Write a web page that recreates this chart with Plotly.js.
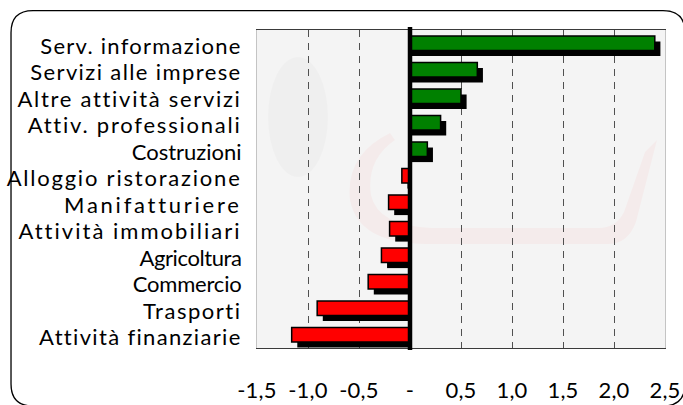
<!DOCTYPE html>
<html><head><meta charset="utf-8">
<script src="https://cdn.plot.ly/plotly-3.0.1.min.js"></script>
<style>
html,body{margin:0;padding:0;background:#fff;overflow:hidden;}
#chart{width:683px;height:405px;}
#chart .ytick text{letter-spacing:0.9px;}
#chart .xtick text{letter-spacing:0.2px;}
</style></head><body>
<div id="chart"></div>
<script>
const categories = ['Serv. informazione','Servizi alle imprese','Altre attività servizi','Attiv. professionali','Costruzioni','Alloggio ristorazione','Manifatturiere','Attività immobiliari','Agricoltura','Commercio','Trasporti','Attività finanziarie'];
const values = [2.40, 0.66, 0.50, 0.30, 0.17, -0.08, -0.21, -0.20, -0.28, -0.41, -0.91, -1.16];
const tickValues = [-1.5, -1.0, -0.5, 0, 0.5, 1.0, 1.5, 2.0, 2.5];
const tickLabels = ['-1,5', '-1,0', '-0,5', '-', '0,5', '1,0', '1,5', '2,0', '2,5'];
const gridValues = [-1.5, -1.0, -0.5, 0.5, 1.0, 1.5, 2.0];

// style only: letter spacing (px) of each category label, to mimic the original text rendering
const labelSpacing = [1.25, 1.39, 1.7, 1.78, 0.0, 1.79, 2.74, 2.03, -0.4, -0.18, 1.53, 1.33];

// plot-area pixel box (for decorations only)
const L = 257, R = 665, T = 30, B = 348;
const px = x => (x - L) / (R - L);
const py = y => (B - y) / (B - T);
const f = (x, y) => px(x).toFixed(4) + ',' + py(y).toFixed(4);

const barW = 0.55;
const shadowDy = 0.21;   // category units
const shadowDx = 0.055;  // value units

const colors = values.map(v => v >= 0 ? '#008000' : '#ff0000');

const shadow = {
  type: 'bar', orientation: 'h', y: categories,
  x: values.map(v => v + shadowDx),
  width: barW, offset: -barW / 2 + shadowDy,
  marker: {color: '#000', line: {width: 0}},
  hoverinfo: 'skip'
};
const bars = {
  type: 'bar', orientation: 'h', y: categories, x: values,
  width: barW, offset: -barW / 2,
  marker: {color: colors, line: {color: '#000', width: 1.5}}
};

const framePath = 'M ' + f(33, 10.7) + ' L ' + f(663, 10.7) + ' Q ' + f(685, 10.7) + ' ' + f(685, 32.7) +
  ' L ' + f(685, 384) + ' Q ' + f(685, 406) + ' ' + f(663, 406) +
  ' L ' + f(33, 406) + ' Q ' + f(11, 406) + ' ' + f(11, 384) +
  ' L ' + f(11, 32.7) + ' Q ' + f(11, 10.7) + ' ' + f(33, 10.7) + ' Z';

const swooshPath = 'M ' + f(390, 133) + ' Q ' + f(345, 155) + ' ' + f(350, 200) + ' Q ' + f(358, 243) + ' ' + f(425, 244) +
  ' L ' + f(608, 244) + ' Q ' + f(628, 244) + ' ' + f(636, 222) + ' L ' + f(657, 140) + ' L ' + f(645, 152) +
  ' L ' + f(624, 212) + ' Q ' + f(616, 228) + ' ' + f(598, 228) + ' L ' + f(432, 228) +
  ' Q ' + f(378, 226) + ' ' + f(371, 195) + ' Q ' + f(366, 160) + ' ' + f(395, 140) + ' Z';

const font = 'Lato, "Open Sans", sans-serif';

const layout = {
  width: 683, height: 405,
  margin: {l: L, r: 683 - R, t: T, b: 405 - B, pad: 0},
  paper_bgcolor: '#ffffff',
  plot_bgcolor: '#f4f4f4',
  showlegend: false,
  barmode: 'overlay',
  xaxis: {
    range: [-1.5, 2.5], fixedrange: true,
    tickmode: 'array', tickvals: tickValues, ticktext: tickLabels,
    showgrid: false, zeroline: false,
    showline: true, linecolor: '#3a3a3a', linewidth: 1, mirror: true,
    ticks: '', ticklabelstandoff: 23,
    tickfont: {family: font, size: 22, color: '#000'},
    minor: {tickmode: 'array', tickvals: gridValues, showgrid: true, gridcolor: '#505050', griddash: '7px,6px', gridwidth: 1, ticks: ''}
  },
  yaxis: {
    type: 'category', categoryorder: 'array', categoryarray: categories,
    autorange: 'reversed', fixedrange: true,
    showgrid: false, zeroline: false,
    showline: true, linecolor: '#c4c4c4', linewidth: 1, mirror: true,
    ticks: '', ticklabelstandoff: 10, ticklabelshift: -3,
    tickfont: {family: font, size: 22, color: '#000'}
  },
  shapes: [
    {type: 'path', xref: 'paper', yref: 'paper', path: swooshPath, fillcolor: 'rgba(255,0,0,0.035)', line: {width: 0}, layer: 'below'},
    {type: 'circle', xref: 'paper', yref: 'paper', x0: px(268), x1: px(328), y0: py(177), y1: py(57), fillcolor: 'rgba(0,0,0,0.02)', line: {width: 0}, layer: 'below'},
    {type: 'line', xref: 'x', yref: 'paper', x0: 0, x1: 0, y0: py(350), y1: py(27), line: {color: '#000', width: 4.5}},
    {type: 'path', xref: 'paper', yref: 'paper', path: framePath, line: {color: '#000', width: 1.3}, fillcolor: 'rgba(0,0,0,0)'}
  ]
};

Plotly.newPlot('chart', [shadow, bars], layout, {displayModeBar: false, staticPlot: true}).then(gd => {
  gd.querySelectorAll('.ytick text').forEach(t => {
    const i = categories.indexOf(t.textContent);
    if (i >= 0) t.style.letterSpacing = labelSpacing[i] + 'px';
  });
});
</script>
</body></html>
